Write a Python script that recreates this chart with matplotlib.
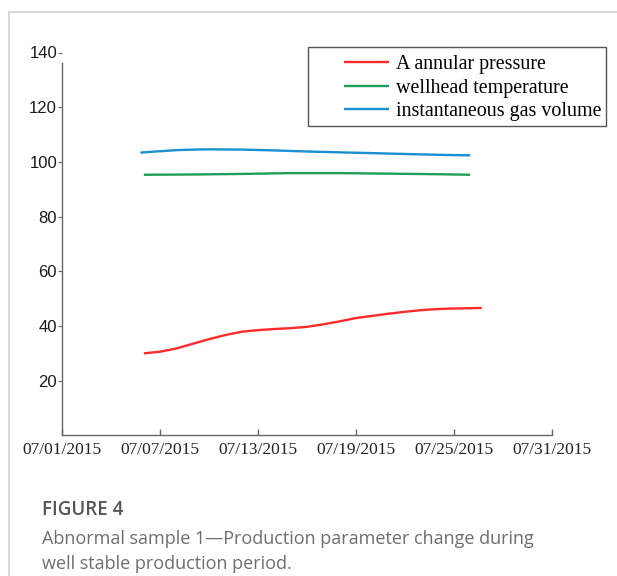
import matplotlib
matplotlib.use("Agg")
import matplotlib.pyplot as plt
import matplotlib.dates as mdates
from matplotlib.lines import Line2D
from matplotlib.patches import Rectangle
import pandas as pd

# ---- data ----
pressure_dates = ["2015-07-06 00:00", "2015-07-07 00:00", "2015-07-08 00:00", "2015-07-09 00:00",
                  "2015-07-10 00:00", "2015-07-11 00:00", "2015-07-12 00:00", "2015-07-13 00:00",
                  "2015-07-14 00:00", "2015-07-15 00:00", "2015-07-16 00:00", "2015-07-17 00:00",
                  "2015-07-18 00:00", "2015-07-19 00:00", "2015-07-20 00:00", "2015-07-21 00:00",
                  "2015-07-22 00:00", "2015-07-23 00:00", "2015-07-24 00:00", "2015-07-25 00:00",
                  "2015-07-26 00:00", "2015-07-26 17:00"]
pressure_values = [30.0, 30.6, 31.8, 33.5, 35.2, 36.7, 37.9, 38.5, 38.9, 39.2,
                   39.7, 40.6, 41.7, 42.9, 43.7, 44.5, 45.2, 45.8, 46.2, 46.4,
                   46.5, 46.6]

temp_dates = ["2015-07-06 00:00", "2015-07-09 00:00", "2015-07-12 00:00", "2015-07-15 00:00",
              "2015-07-18 00:00", "2015-07-21 00:00", "2015-07-24 00:00", "2015-07-26 00:00"]
temp_values = [95.3, 95.4, 95.6, 95.9, 95.9, 95.7, 95.5, 95.3]

gas_dates = ["2015-07-05 19:00", "2015-07-07 00:00", "2015-07-08 00:00", "2015-07-09 00:00",
             "2015-07-10 00:00", "2015-07-12 00:00", "2015-07-14 00:00", "2015-07-16 00:00",
             "2015-07-18 00:00", "2015-07-20 00:00", "2015-07-22 00:00", "2015-07-24 00:00",
             "2015-07-26 00:00"]
gas_values = [103.4, 103.9, 104.3, 104.5, 104.6, 104.5, 104.2, 103.8, 103.5, 103.2,
              102.9, 102.6, 102.4]

series_labels = ["A annular pressure", "wellhead temperature", "instantaneous gas volume"]
series_colors = ["#ff2a2a", "#1f9e5a", "#1a8fd2"]

x_ticks = ["2015-07-01", "2015-07-07", "2015-07-13", "2015-07-19", "2015-07-25", "2015-07-31"]
y_ticks = [20, 40, 60, 80, 100, 120, 140]

caption_title = "FIGURE 4"
caption_text = ["Abnormal sample 1\u2014Production parameter change during",
                "well stable production period."]

# ---- figure ----
W, H = 617, 576
fig = plt.figure(figsize=(W / 100, H / 100), dpi=100)
ax = fig.add_axes([62.3 / W, 1 - 435.4 / H, (551.7 - 62.3) / W, (435.4 - 52.5) / H])

for d, v, lab, col in zip([pressure_dates, temp_dates, gas_dates],
                          [pressure_values, temp_values, gas_values],
                          series_labels, series_colors):
    ax.plot(pd.to_datetime(d, format="%Y-%m-%d %H:%M"), v, color=col, lw=1.7, label=lab,
            solid_capstyle="butt")

ax.set_xlim(pd.Timestamp(x_ticks[0]), pd.Timestamp(x_ticks[-1]))
ax.set_ylim(0, 140)
ax.set_xticks(pd.to_datetime(x_ticks))
ax.xaxis.set_major_formatter(mdates.DateFormatter("%m/%d/%Y"))
ax.set_yticks(y_ticks)

for s in ["top", "right"]:
    ax.spines[s].set_visible(False)
for s in ["left", "bottom"]:
    ax.spines[s].set_color("#666666")
    ax.spines[s].set_linewidth(1.0)
ax.spines["left"].set_bounds(0, 136)

ax.tick_params(axis="x", direction="in", length=4, width=1, color="#666666", pad=5,
               labelsize=12.5, labelcolor="#222222")
ax.tick_params(axis="y", direction="out", length=3, width=0.8, color="#666666", pad=0.8,
               labelsize=12, labelcolor="#1a1a1a")
for t in ax.get_xticklabels():
    t.set_fontfamily("Liberation Serif")
for t in ax.get_yticklabels():
    t.set_fontfamily("Liberation Sans")

leg = ax.legend(loc="upper right", bbox_to_anchor=(610 / W, 1 - 47 / H),
                bbox_transform=fig.transFigure, borderaxespad=0,
                prop={"family": "Liberation Serif", "size": 14.4},
                frameon=False, handlelength=2.25, handletextpad=0.4,
                labelspacing=0.23, borderpad=0.4)

# legend frame (wider than the entries, as in the reference)
fig.add_artist(Rectangle((308 / W, 1 - 126 / H), (606 - 308) / W, (126 - 47) / H,
                         transform=fig.transFigure, fill=False, edgecolor="#555555", lw=1.0))

# page frame lines
fig.add_artist(Line2D([9 / W, 9 / W], [0, 1 - 12 / H], color="#d0d0d0", lw=1.2))
fig.add_artist(Line2D([9 / W, 1], [1 - 12 / H, 1 - 12 / H], color="#d0d0d0", lw=1.2))

# caption
fig.text(42 / W, 1 - 510 / H, caption_title, fontfamily="Open Sans", fontweight="semibold",
         fontsize=13.5, color="#555555", va="center", ha="left")
for i, line in enumerate(caption_text):
    fig.text(42 / W, 1 - (539 + 25 * i) / H, line, fontfamily="Open Sans",
             fontsize=12.95, color="#6e6e6e", va="center", ha="left")

fig.savefig("out.png", dpi=100, facecolor="white")
